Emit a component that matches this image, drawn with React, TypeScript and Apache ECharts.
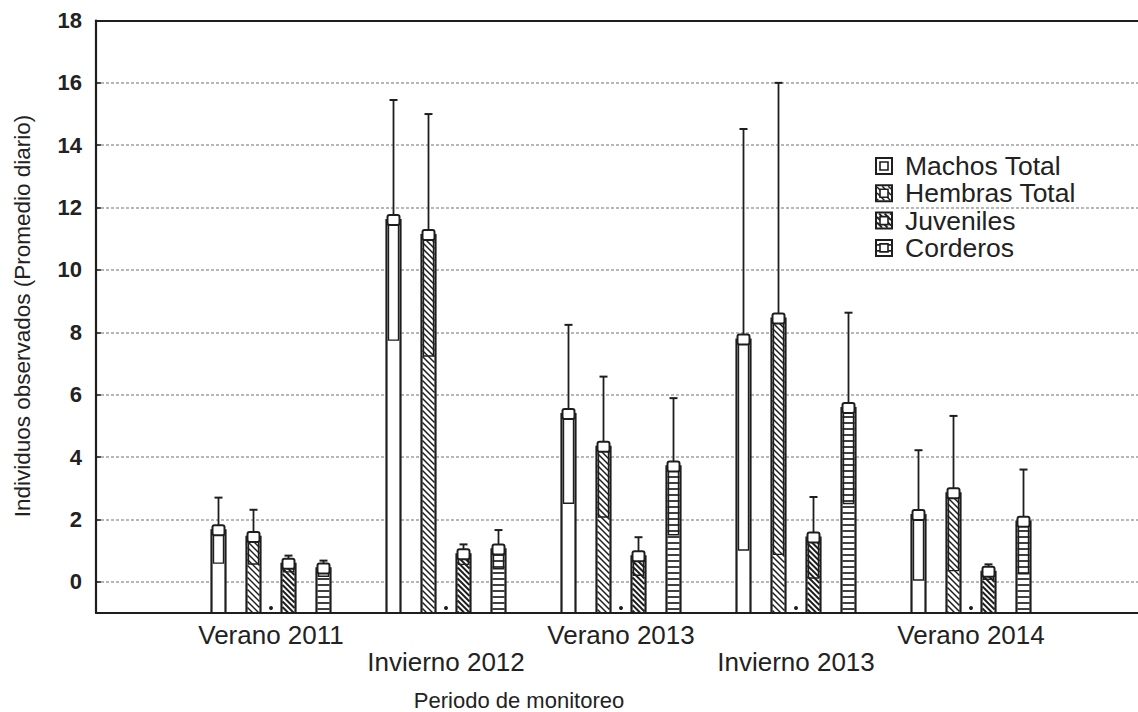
import React, { useEffect, useRef } from 'react';
import * as echarts from 'echarts';

// Monitoring periods (x categories)
const periods = ['Verano 2011', 'Invierno 2012', 'Verano 2013', 'Invierno 2013', 'Verano 2014'];
const seriesNames = ['Machos Total', 'Hembras Total', 'Juveniles', 'Corderos'];

// Daily mean of observed individuals and the half-width of the error bar
const machosMean = [1.65, 11.6, 5.38, 7.77, 2.14];
const machosErr = [1.05, 3.85, 2.86, 6.75, 2.08];
const hembrasMean = [1.44, 11.12, 4.33, 8.44, 2.84];
const hembrasErr = [0.87, 3.88, 2.25, 7.56, 2.48];
const juvenilesMean = [0.58, 0.88, 0.82, 1.42, 0.32];
const juvenilesErr = [0.26, 0.32, 0.61, 1.3, 0.24];
const corderosMean = [0.43, 1.04, 3.7, 5.57, 1.93];
const corderosErr = [0.25, 0.62, 2.19, 3.06, 1.67];

const yLabelValues = [0, 2, 4, 6, 8, 10, 12, 14, 16, 18];

const INK = '#1e1e1e';
const FONT = '"Liberation Sans", Arial, Helvetica, sans-serif';

type Fill = 'plain' | 'diag' | 'diagDense' | 'horiz';

// Hatching lines confined to a rectangle
function hatch(fill: Fill, x0: number, y0: number, x1: number, y1: number): any[] {
  const out: any[] = [];
  if (fill === 'horiz') {
    for (let y = y1 - 4; y > y0 + 1; y -= 6) {
      out.push({ type: 'line', shape: { x1: x0, y1: y, x2: x1, y2: y }, style: { stroke: INK, lineWidth: 1.7 } });
    }
  } else if (fill === 'diag' || fill === 'diagDense') {
    const step = fill === 'diag' ? 6 : 5.5;
    const lw = fill === 'diag' ? 1.5 : 1.9;
    const cStart = Math.ceil((y0 - x1) / step) * step;
    for (let c = cStart; c <= y1 - x0; c += step) {
      const xa = Math.max(x0, y0 - c);
      const xb = Math.min(x1, y1 - c);
      if (xb - xa > 0.6) {
        out.push({ type: 'line', shape: { x1: xa, y1: xa + c, x2: xb, y2: xb + c }, style: { stroke: INK, lineWidth: lw } });
      }
    }
  }
  return out;
}

function makeRender(offset: number, fill: Fill, withDot: boolean) {
  return (params: any, api: any) => {
    const idx = api.value(0);
    const mean = api.value(1);
    const err = api.value(2);
    const top = api.coord([idx, mean]);
    const base = api.coord([idx, -1]);
    const hi = api.coord([idx, mean + err]);
    const lo = api.coord([idx, Math.max(-1, mean - err)]);
    const cx = top[0] + offset;
    const hw = 7;
    const x0 = cx - hw;
    const x1 = cx + hw;
    const yT = top[1];
    const yB = base[1];
    const children: any[] = [
      { type: 'rect', shape: { x: x0, y: yT, width: hw * 2, height: yB - yT }, style: { fill: '#fff', stroke: 'none' } },
      ...hatch(fill, x0 + 1, yT, x1 - 1, yB),
      { type: 'rect', shape: { x: x0, y: yT, width: hw * 2, height: yB - yT }, style: { fill: 'none', stroke: INK, lineWidth: 2.2 } },
      { type: 'rect', shape: { x: cx - 5, y: yT, width: 10, height: lo[1] - yT }, style: { fill: 'none', stroke: INK, lineWidth: 1.4 } },
      { type: 'line', shape: { x1: cx, y1: yT, x2: cx, y2: hi[1] }, style: { stroke: INK, lineWidth: 1.8 } },
      { type: 'line', shape: { x1: cx - 4, y1: hi[1], x2: cx + 4, y2: hi[1] }, style: { stroke: INK, lineWidth: 2 } },
      { type: 'rect', shape: { x: cx - 6, y: yT - 5, width: 12, height: 10, r: 2 }, style: { fill: '#fff', stroke: INK, lineWidth: 2 } },
    ];
    if (withDot) {
      children.push({ type: 'circle', shape: { cx: top[0], cy: yB - 5, r: 2 }, style: { fill: INK } });
    }
    return { type: 'group', children };
  };
}

function legendGraphic(): any {
  const fills: Fill[] = ['plain', 'diag', 'diagDense', 'horiz'];
  const children: any[] = [];
  const x = 876;
  fills.forEach((f, i) => {
    const y = 158 + i * 27.3;
    children.push({ type: 'rect', shape: { x, y, width: 16, height: 16 }, style: { fill: '#fff', stroke: 'none' } });
    children.push(...hatch(f, x + 1, y + 1, x + 15, y + 15));
    children.push({ type: 'rect', shape: { x, y, width: 16, height: 16 }, style: { fill: 'none', stroke: INK, lineWidth: 2 } });
    children.push({ type: 'rect', shape: { x: x + 4, y: y + 4, width: 8, height: 8 }, style: { fill: '#fff', stroke: INK, lineWidth: 1.6 } });
    children.push({
      type: 'text',
      x: 905,
      y: y + 8,
      style: {
        text: seriesNames[i],
        font: `26.5px ${FONT}`,
        fill: '#222',
        align: 'left',
        textAlign: 'left',
        verticalAlign: 'middle',
        textVerticalAlign: 'middle',
      },
    });
  });
  return { type: 'group', children };
}

export default function App() {
  const ref = useRef<HTMLDivElement>(null);

  useEffect(() => {
    if (!ref.current) return;
    const chart = echarts.init(ref.current, null, { renderer: 'svg' });

    const toData = (m: number[], e: number[]) => m.map((v, i) => [i + 1, v, e[i]]);
    const groups = [
      { name: seriesNames[0], mean: machosMean, err: machosErr, offset: -52.5, fill: 'plain' as Fill, dot: false },
      { name: seriesNames[1], mean: hembrasMean, err: hembrasErr, offset: -17.5, fill: 'diag' as Fill, dot: true },
      { name: seriesNames[2], mean: juvenilesMean, err: juvenilesErr, offset: 17.5, fill: 'diagDense' as Fill, dot: false },
      { name: seriesNames[3], mean: corderosMean, err: corderosErr, offset: 52.5, fill: 'horiz' as Fill, dot: false },
    ];
    const categoryData = ['', ...periods, ''];
    const frameLine = { show: true, onZero: false, lineStyle: { color: INK, width: 2.2 } };

    chart.setOption({
      animation: false,
      backgroundColor: '#fff',
      textStyle: { fontFamily: FONT },
      grid: {
        left: 96,
        top: 20.5,
        width: 1050,
        bottom: 99,
        outerBoundsMode: 'none',
        containLabel: false,
        show: false,
      },
      xAxis: [
        {
          type: 'category',
          data: categoryData,
          boundaryGap: false,
          position: 'bottom',
          axisLine: frameLine,
          axisTick: { show: false },
          splitLine: { show: false },
          axisLabel: {
            interval: 0,
            fontSize: 26,
            color: '#222',
            margin: 8,
            lineHeight: 27,
            formatter: (v: string, i: number) => (i % 2 === 0 && v ? '\n' + v : v),
          },
        },
        {
          type: 'category',
          data: categoryData,
          boundaryGap: false,
          position: 'top',
          axisLine: frameLine,
          axisTick: { show: false },
          axisLabel: { show: false },
          splitLine: { show: false },
        },
      ],
      yAxis: {
        type: 'value',
        min: -1,
        max: 18,
        splitNumber: 10,
        axisLine: frameLine,
        axisTick: { show: true, inside: true, length: 5, lineStyle: { color: INK, width: 1.5 } },
        axisLabel: {
          fontSize: 22,
          fontWeight: 'bold',
          color: '#222',
          margin: 14,
          formatter: (v: number) => (yLabelValues.includes(v) ? String(v) : ''),
        },
        splitLine: { show: true, lineStyle: { color: '#a0a0a0', width: 1.5, type: [3, 2] } },
      },
      graphic: [
        {
          type: 'text',
          x: 22,
          y: 316,
          rotation: Math.PI / 2,
          style: {
            text: 'Individuos observados (Promedio diario)',
            font: `22.5px ${FONT}`,
            fill: '#222',
            align: 'center',
            textAlign: 'center',
            verticalAlign: 'middle',
            textVerticalAlign: 'middle',
          },
        },
        {
          type: 'text',
          x: 519,
          y: 700,
          style: {
            text: 'Periodo de monitoreo',
            font: `22px ${FONT}`,
            fill: '#222',
            align: 'center',
            textAlign: 'center',
            verticalAlign: 'middle',
            textVerticalAlign: 'middle',
          },
        },
        legendGraphic(),
      ],
      series: groups.map((g) => ({
        type: 'custom',
        name: g.name,
        renderItem: makeRender(g.offset, g.fill, g.dot),
        data: toData(g.mean, g.err),
        encode: { x: 0, y: 1 },
        xAxisIndex: 0,
        clip: false,
        z: 3,
      })),
    });

    return () => chart.dispose();
  }, []);

  return (
    <div
      ref={ref}
      style={{ position: 'fixed', left: 0, top: 0, width: 1138, height: 712, background: '#fff' }}
    />
  );
}
